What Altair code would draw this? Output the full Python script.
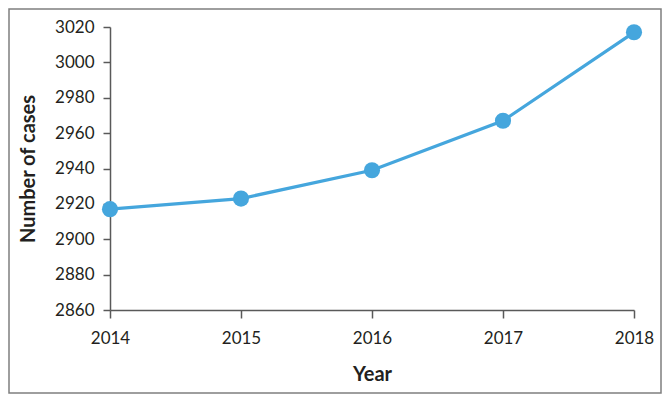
import altair as alt
import pandas as pd

years = [2014, 2015, 2016, 2017, 2018]
cases = [2917, 2923, 2939, 2967, 3017]

df = pd.DataFrame({"Year": years, "Cases": cases})

FONT = "Lato"
AXIS = "#595959"
BLUE = "#45A6DD"
TXT = "#231F20"

x = alt.X("Year:Q", title="Year",
          scale=alt.Scale(domain=[2014, 2018], nice=False, zero=False),
          axis=alt.Axis(values=years, format="d", grid=False, tickSize=8,
                        labelPadding=12, titlePadding=18, domainColor=AXIS,
                        tickColor=AXIS, domainWidth=1.5, tickWidth=1.5,
                        labelFlush=False,
                        labelFontSize=17, labelColor=TXT,
                        titleFontSize=20, titleFontWeight="bold",
                        titleColor=TXT, labelFont=FONT, titleFont=FONT))
y = alt.Y("Cases:Q", title="Number of cases",
          scale=alt.Scale(domain=[2860, 3020], nice=False, zero=False),
          axis=alt.Axis(values=list(range(2860, 3021, 20)), format="d", grid=False,
                        tickSize=7, labelPadding=9, titlePadding=16,
                        domainColor=AXIS, tickColor=AXIS, domainWidth=1.5,
                        tickWidth=1.5, labelFlush=False,
                        labelFontSize=17, labelColor=TXT,
                        titleFontSize=20, titleFontWeight="bold",
                        titleColor=TXT, labelFont=FONT, titleFont=FONT))

line = alt.Chart(df).mark_line(color=BLUE, strokeWidth=3.2).encode(x=x, y=y)
pts = alt.Chart(df).mark_circle(color=BLUE, size=260, opacity=1).encode(x=x, y=y)

border = alt.Chart(df).mark_rect(fill=None, stroke="#7f7f7f", strokeWidth=1.5,
                                 clip=False).encode(
    x=alt.value(-101), x2=alt.value(551),
    y=alt.value(-18), y2=alt.value(366))

chart = alt.layer(border.transform_filter("datum.Year == 2014"), line, pts).properties(
    width=524, height=283,
    autosize=alt.AutoSizeParams(type="none"),
    padding={"left": 102, "top": 19, "right": 28, "bottom": 85},
).configure(background="white").configure_view(stroke=None)

chart.save("out.html", embed_options={"renderer": "svg", "actions": False})
